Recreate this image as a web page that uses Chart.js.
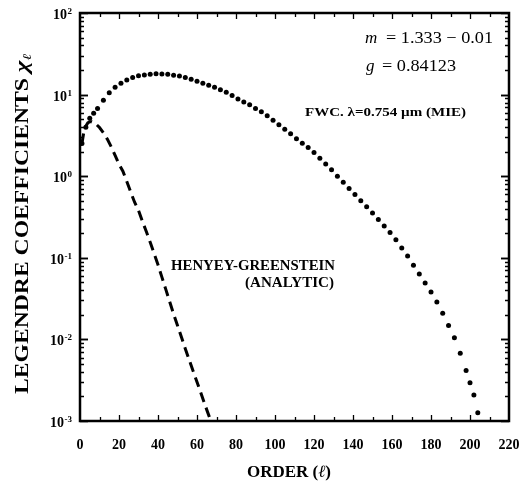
<!DOCTYPE html>
<html>
<head>
<meta charset="utf-8">
<script src="https://cdn.jsdelivr.net/npm/chart.js@4.4.0/dist/chart.umd.min.js"></script>
<style>
  html, body { margin: 0; padding: 0; background: #fff; }
  #wrap { width: 527px; height: 483px; }
</style>
</head>
<body>
<div id="wrap"><canvas id="chart"></canvas></div>
<script>
// FWC Mie coefficients (dotted)
const mieOrder = [1, 3, 5, 7, 9, 12, 15, 18, 21, 24, 27, 30, 33, 36, 39, 42, 45, 48, 51, 54,
  57, 60, 63, 66, 69, 72, 75, 78, 81, 84, 87, 90, 93, 96, 99, 102, 105, 108, 111, 114,
  117, 120, 123, 126, 129, 132, 135, 138, 141, 144, 147, 150, 153, 156, 159, 162, 165, 168, 171, 174,
  177, 180, 183, 186, 189, 192, 195, 198, 200, 202, 204];
const mieCoef = [2.51, 3.98, 5.13, 5.89, 6.76, 8.51, 10.5, 12.3, 13.8, 15.1, 16.2, 17.0, 17.4, 17.8, 18.0, 17.9, 17.7, 17.3, 16.9, 16.2,
  15.4, 14.6, 13.8, 13.0, 12.3, 11.5, 10.7, 9.77, 8.81, 8.13, 7.50, 6.76, 6.17, 5.50, 4.84, 4.27, 3.76, 3.31, 2.88, 2.54,
  2.24, 1.95, 1.66, 1.41, 1.20, 1.00, 0.841, 0.708, 0.596, 0.501, 0.422, 0.355, 0.295, 0.245, 0.204, 0.166, 0.132, 0.105, 0.0813, 0.0631,
  0.0490, 0.0380, 0.0288, 0.0209, 0.0148, 0.0105, 0.00676, 0.00417, 0.00295, 0.00209, 0.00126];

// Henyey-Greenstein coefficients (dashed)
const hgOrder = [1, 2, 3, 4, 5, 6, 8, 10, 12, 14, 16, 18, 20, 22, 24, 26, 28, 30, 32, 34,
  36, 38, 40, 42, 44, 46, 48, 50, 52, 54, 56, 58, 60, 62, 64, 66, 68];
const hgCoef = [2.52, 3.5, 4.1, 4.5, 4.65, 4.65, 4.4, 3.95, 3.4, 2.85, 2.3, 1.8, 1.4, 1.15, 0.86, 0.64, 0.48, 0.38, 0.28, 0.21,
  0.155, 0.113, 0.082, 0.058, 0.041, 0.029, 0.0205, 0.0148, 0.0107, 0.0077, 0.0056, 0.0041, 0.0030, 0.0022, 0.0016, 0.00118, 0.00087];

const yExponents = ["-3", "-2", "-1", "0", "1", "2"];

const serif = "'Liberation Serif', 'Times New Roman', serif";

function pairs(xs, ys) {
  return xs.map((x, i) => ({ x: x, y: ys[i] }));
}

// draw text squeezed/stretched to a given width (the scan has wide type)
function fitText(ctx, txt, x, y, font, width, align) {
  ctx.save();
  ctx.font = font;
  const w = ctx.measureText(txt).width;
  const k = width / w;
  const left = align === 'right' ? x - width : (align === 'center' ? x - width / 2 : x);
  ctx.translate(left, y);
  ctx.scale(k, 1);
  ctx.textAlign = 'left';
  ctx.fillText(txt, 0, 0);
  ctx.restore();
}

// frame, inward ticks, y labels and the notes on the plot
const frame = {
  id: 'frame',
  afterDatasetsDraw(chart) {
    const ctx = chart.ctx;
    const a = chart.chartArea;
    const xs = chart.scales.x;
    const ys = chart.scales.y;
    ctx.save();
    ctx.strokeStyle = '#000';
    ctx.fillStyle = '#000';
    ctx.lineWidth = 1.3;

    // log ticks left + right
    for (let e = -3; e <= 1; e++) {
      for (let k = 1; k <= 10; k++) {
        const v = k * Math.pow(10, e);
        const py = Math.round(ys.getPixelForValue(v)) + 0.5;
        const len = (k === 1 || k === 10) ? 8 : 4;
        ctx.beginPath();
        ctx.moveTo(a.left, py); ctx.lineTo(a.left + len, py);
        ctx.moveTo(a.right, py); ctx.lineTo(a.right - len, py);
        ctx.stroke();
      }
    }
    // linear ticks top + bottom
    for (let v = 10; v < 220; v += 10) {
      const px = Math.round(xs.getPixelForValue(v)) + 0.5;
      const len = v % 20 === 0 ? 6 : 4;
      ctx.beginPath();
      ctx.moveTo(px, a.bottom); ctx.lineTo(px, a.bottom - len);
      ctx.moveTo(px, a.top); ctx.lineTo(px, a.top + len);
      ctx.stroke();
    }

    ctx.lineWidth = 2.5;
    ctx.strokeRect(a.left, a.top, a.right - a.left, a.bottom - a.top);

    // y labels 10^n
    yExponents.forEach(ex => {
      const py = ys.getPixelForValue(Math.pow(10, Number(ex)));
      ctx.font = 'bold 9px ' + serif;
      const ew = ctx.measureText(ex).width;
      const right = a.left - 8;
      ctx.textAlign = 'left';
      ctx.textBaseline = 'alphabetic';
      ctx.fillText(ex, right - ew, py + 1);
      ctx.font = 'bold 14px ' + serif;
      ctx.textAlign = 'right';
      ctx.fillText('10', right - ew - 0.5, py + 6);
    });

    // y title, stretched to the scan's length
    ctx.save();
    ctx.translate(23, 224);
    ctx.rotate(-Math.PI / 2);
    ctx.textBaseline = 'middle';
    const t1 = 'LEGENDRE COEFFICIENTS ';
    ctx.font = 'bold 18px ' + serif;
    const w1 = ctx.measureText(t1).width;
    ctx.font = 'bold italic 19px ' + serif;
    const w2 = ctx.measureText('χ').width;
    ctx.font = 'italic 12px ' + serif;
    const w3 = ctx.measureText('ℓ').width;
    const total = w1 + w2 + w3;
    const k = 340 / total;
    ctx.scale(k, 1);
    let sx = -total / 2;
    ctx.textAlign = 'left';
    ctx.font = 'bold 18px ' + serif;
    ctx.fillText(t1, sx, 0);
    ctx.font = 'bold italic 19px ' + serif;
    ctx.fillText('χ', sx + w1, 0);
    ctx.font = 'italic 12px ' + serif;
    ctx.fillText('ℓ', sx + w1 + w2, 5);
    ctx.restore();

    // x title
    ctx.textBaseline = 'alphabetic';
    ctx.textAlign = 'left';
    ctx.font = 'bold 17px ' + serif;
    const p1 = 'ORDER (';
    const q1 = ctx.measureText(p1).width;
    const q3 = ctx.measureText(')').width;
    ctx.font = 'italic 17px ' + serif;
    const q2 = ctx.measureText('ℓ').width;
    let tx = 289 - (q1 + q2 + q3) / 2;
    ctx.font = 'bold 17px ' + serif;
    ctx.fillText(p1, tx, 477);
    ctx.font = 'italic 17px ' + serif;
    ctx.fillText('ℓ', tx + q1, 477);
    ctx.font = 'bold 17px ' + serif;
    ctx.fillText(')', tx + q1 + q2, 477);

    // m and g
    ctx.font = 'italic 17px ' + serif;
    ctx.fillText('m', 365, 43);
    ctx.fillText('g', 366, 71);
    fitText(ctx, '= 1.333 \u2212 0.01', 386, 43, '17px ' + serif, 107, 'left');
    fitText(ctx, '= 0.84123', 382, 71, '17px ' + serif, 74, 'left');

    // curve labels
    fitText(ctx, 'FWC. \u03bb=0.754 \u00b5m (MIE)', 305, 116, 'bold 13px ' + serif, 161, 'left');
    fitText(ctx, 'HENYEY-GREENSTEIN', 335, 270, 'bold 14px ' + serif, 164, 'right');
    fitText(ctx, '(ANALYTIC)', 334, 287, 'bold 14px ' + serif, 89, 'right');

    ctx.restore();
  }
};

new Chart(document.getElementById('chart'), {
  type: 'scatter',
  data: {
    datasets: [
      {
        label: 'FWC Mie',
        data: pairs(mieOrder, mieCoef),
        showLine: false,
        pointRadius: 2.5,
        pointBackgroundColor: '#000',
        pointBorderWidth: 0
      },
      {
        label: 'Henyey-Greenstein',
        data: pairs(hgOrder, hgCoef),
        showLine: true,
        borderColor: '#000',
        borderWidth: 3,
        borderDash: [10, 6],
        pointRadius: 0,
        fill: false
      }
    ]
  },
  options: {
    responsive: true,
    maintainAspectRatio: false,
    animation: false,
    layout: { padding: { top: 13, right: 18, left: 0, bottom: 0 } },
    plugins: { legend: { display: false }, tooltip: { enabled: false } },
    scales: {
      x: {
        type: 'linear', min: 0, max: 220,
        grid: { display: false, drawTicks: true, tickLength: 16 },
        border: { display: false },
        ticks: { stepSize: 20, color: '#000', padding: 0, maxRotation: 0,
                 font: { family: serif, size: 14, weight: 'bold' } },
        afterFit(s) { s.height = 62; }
      },
      y: {
        type: 'logarithmic', min: 1e-3, max: 100,
        grid: { display: false, drawTicks: false },
        border: { display: false },
        ticks: { display: false },
        afterFit(s) { s.width = 80; }
      }
    }
  },
  plugins: [frame]
});
</script>
</body>
</html>
